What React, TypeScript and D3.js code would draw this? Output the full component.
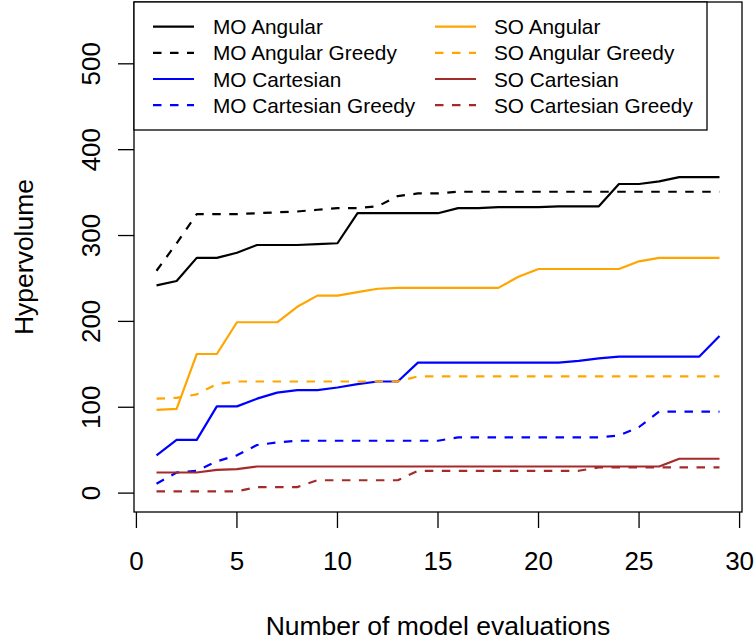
import * as d3 from "d3"

// model evaluations (x)
const evaluations = [1, 2, 3, 4, 5, 6, 7, 8, 9, 10, 11, 12, 13, 14, 15, 16, 17, 18, 19, 20, 21, 22, 23, 24, 25, 26, 27, 28, 29]

const moAngular = [242, 247, 274, 274, 280, 289, 289, 289, 290, 291, 326, 326, 326, 326, 326, 332, 332, 333, 333, 333, 334, 334, 334, 360, 360, 363, 368, 368, 368]
const moAngularGreedy = [259, 291, 325, 325, 325, 326, 327, 328, 330, 332, 332, 334, 346, 349, 349, 351, 351, 351, 351, 351, 351, 351, 351, 351, 351, 351, 351, 351, 351]
const moCartesian = [44, 62, 62, 101, 101, 110, 117, 120, 120, 123, 127, 130, 130, 152, 152, 152, 152, 152, 152, 152, 152, 154, 157, 159, 159, 159, 159, 159, 183]
const moCartesianGreedy = [11, 24, 26, 37, 44, 56, 59, 61, 61, 61, 61, 61, 61, 61, 61, 65, 65, 65, 65, 65, 65, 65, 65, 67, 77, 95, 95, 95, 95]
const soAngular = [97, 98, 162, 162, 199, 199, 199, 217, 230, 230, 234, 238, 239, 239, 239, 239, 239, 239, 252, 261, 261, 261, 261, 261, 270, 274, 274, 274, 274]
const soAngularGreedy = [110, 111, 115, 127, 130, 130, 130, 130, 130, 130, 130, 130, 130, 136, 136, 136, 136, 136, 136, 136, 136, 136, 136, 136, 136, 136, 136, 136, 136]
const soCartesian = [24, 24, 24, 27, 28, 31, 31, 31, 31, 31, 31, 31, 31, 31, 31, 31, 31, 31, 31, 31, 31, 31, 31, 31, 31, 31, 40, 40, 40]
const soCartesianGreedy = [2, 2, 2, 2, 2, 7, 7, 7, 15, 15, 15, 15, 15, 26, 26, 26, 26, 26, 26, 26, 26, 26, 30, 30, 30, 30, 30, 30, 30]

const xTicks = [0, 5, 10, 15, 20, 25, 30]
const yTicks = [0, 100, 200, 300, 400, 500]

const series = [
  { name: "MO Angular", values: moAngular, color: "#000000", dashed: false },
  { name: "MO Angular Greedy", values: moAngularGreedy, color: "#000000", dashed: true },
  { name: "MO Cartesian", values: moCartesian, color: "#0000FF", dashed: false },
  { name: "MO Cartesian Greedy", values: moCartesianGreedy, color: "#0000FF", dashed: true },
  { name: "SO Angular", values: soAngular, color: "#FFA500", dashed: false },
  { name: "SO Angular Greedy", values: soAngularGreedy, color: "#FFA500", dashed: true },
  { name: "SO Cartesian", values: soCartesian, color: "#A52A2A", dashed: false },
  { name: "SO Cartesian Greedy", values: soCartesianGreedy, color: "#A52A2A", dashed: true },
]

const width = 756
const height = 640
const box = { left: 134, right: 742, top: 2, bottom: 512 }
const font = "'Liberation Sans', Arial, Helvetica, sans-serif"
const dash = "8.5,8.5"

export default function App() {
  // R style 4% padding of the ranges
  const x = d3.scaleLinear().domain([-0.12, 30.12]).range([box.left, box.right])
  const y = d3.scaleLinear().domain([-22, 572]).range([box.bottom, box.top])

  const line = d3
    .line<number>()
    .x((_, i) => x(evaluations[i]))
    .y((d) => y(d))

  const legendRows = [26.7, 52.8, 79, 105.2]

  return (
    <svg
      width={width}
      height={height}
      style={{ position: "absolute", left: 0, top: 0, background: "#fff" }}
      fontFamily={font}
    >
      {/* lines */}
      {series.map((s) => (
        <path
          key={s.name}
          d={line(s.values) || ""}
          fill="none"
          stroke={s.color}
          strokeWidth={2.2}
          strokeDasharray={s.dashed ? dash : undefined}
          strokeLinejoin="round"
        />
      ))}

      {/* plot box */}
      <rect
        x={box.left}
        y={box.top}
        width={box.right - box.left}
        height={box.bottom - box.top}
        fill="none"
        stroke="#000"
        strokeWidth={1.3}
      />

      {/* x axis */}
      {xTicks.map((t) => (
        <g key={"x" + t}>
          <line x1={x(t)} x2={x(t)} y1={box.bottom} y2={box.bottom + 16} stroke="#000" strokeWidth={1.3} />
          <text x={x(t)} y={570} textAnchor="middle" fontSize={26}>
            {t}
          </text>
        </g>
      ))}
      <text x={(box.left + box.right) / 2} y={635} textAnchor="middle" fontSize={26.5}>
        Number of model evaluations
      </text>

      {/* y axis */}
      {yTicks.map((t) => (
        <g key={"y" + t}>
          <line x1={box.left - 16} x2={box.left} y1={y(t)} y2={y(t)} stroke="#000" strokeWidth={1.3} />
          <text
            transform={`translate(100,${y(t)}) rotate(-90)`}
            textAnchor="middle"
            fontSize={26}
          >
            {t}
          </text>
        </g>
      ))}
      <text
        transform={`translate(33,${(box.top + box.bottom) / 2}) rotate(-90)`}
        textAnchor="middle"
        fontSize={26.5}
      >
        Hypervolume
      </text>

      {/* legend */}
      <rect x={box.left} y={box.top} width={707 - box.left} height={130 - box.top} fill="#fff" stroke="#000" strokeWidth={1.3} />
      {series.map((s, i) => {
        const col = i < 4 ? 0 : 1
        const row = i % 4
        const lx = col === 0 ? 153 : 435
        const tx = col === 0 ? 213 : 494
        const ly = legendRows[row]
        return (
          <g key={"lg" + s.name}>
            <line
              x1={lx}
              x2={lx + 41}
              y1={ly}
              y2={ly}
              stroke={s.color}
              strokeWidth={2.2}
              strokeDasharray={s.dashed ? dash : undefined}
            />
            <text x={tx} y={ly} dominantBaseline="central" fontSize={20.8}>
              {s.name}
            </text>
          </g>
        )
      })}
    </svg>
  )
}
